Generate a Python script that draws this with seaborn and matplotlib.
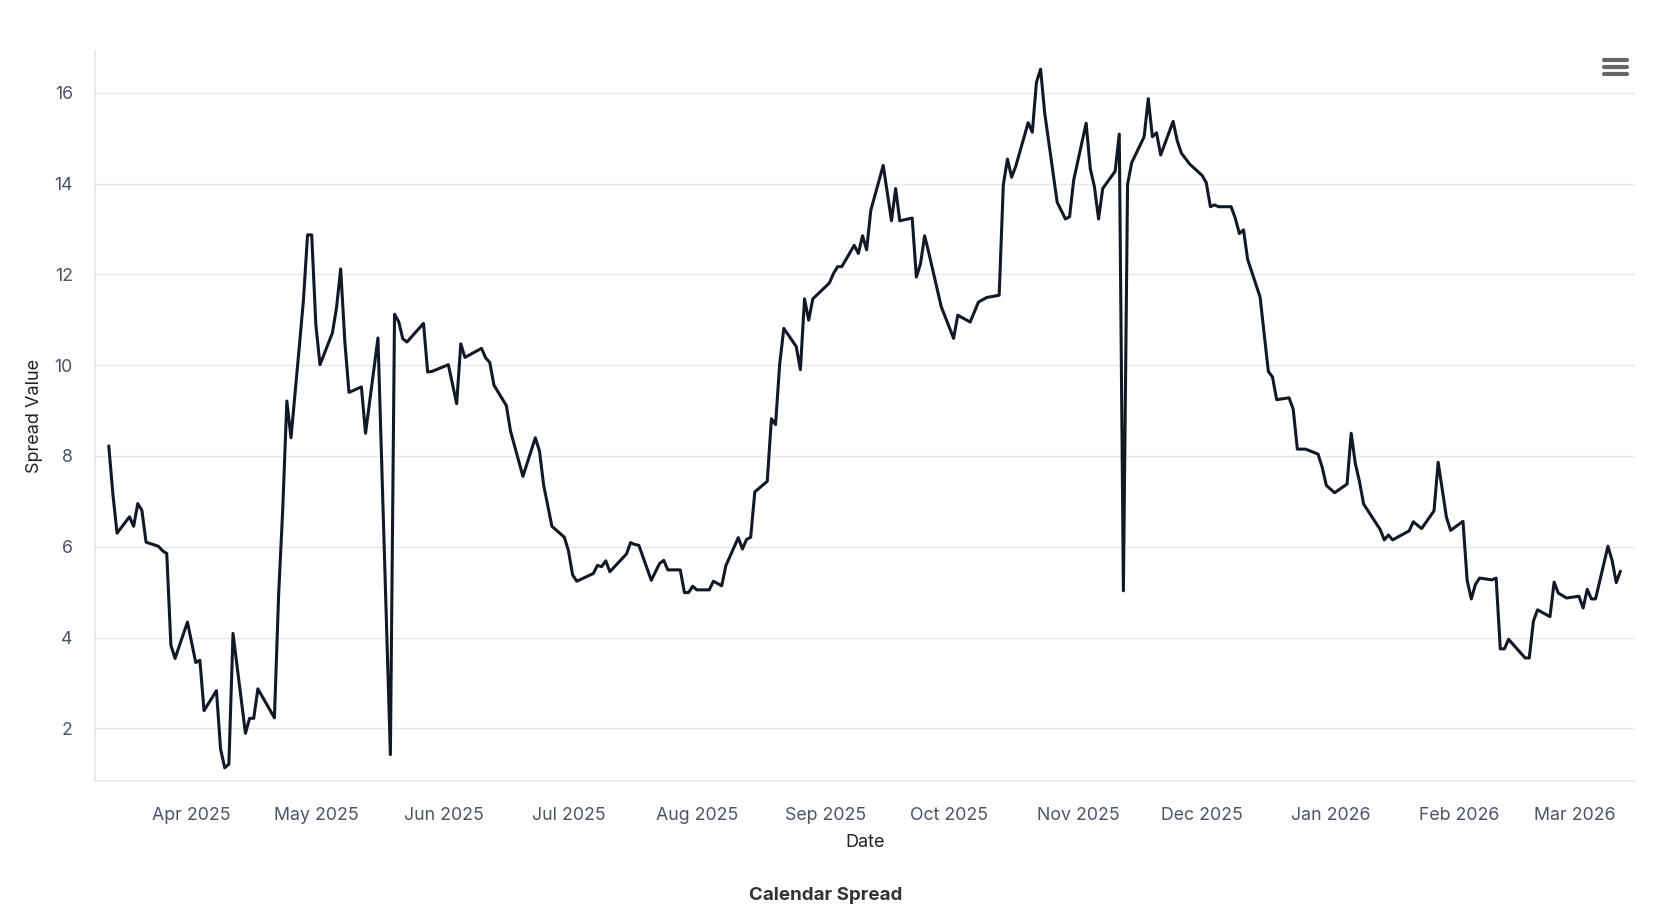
import matplotlib
matplotlib.use("Agg")
import matplotlib.pyplot as plt
import matplotlib.dates as mdates
import pandas as pd
import seaborn as sns

# Spread values (turning points of the line)
dates = [
    "2025-03-12", "2025-03-13", "2025-03-14", "2025-03-17", "2025-03-18", "2025-03-19",
    "2025-03-20", "2025-03-21", "2025-03-24", "2025-03-25", "2025-03-26", "2025-03-27",
    "2025-03-28", "2025-03-31", "2025-04-02", "2025-04-03", "2025-04-04", "2025-04-07",
    "2025-04-08", "2025-04-09", "2025-04-10", "2025-04-11", "2025-04-14", "2025-04-15",
    "2025-04-16", "2025-04-17", "2025-04-21", "2025-04-22", "2025-04-23", "2025-04-24",
    "2025-04-25", "2025-04-27", "2025-04-28", "2025-04-29", "2025-04-30", "2025-05-01",
    "2025-05-02", "2025-05-05", "2025-05-06", "2025-05-07", "2025-05-08", "2025-05-09",
    "2025-05-12", "2025-05-13", "2025-05-16", "2025-05-19", "2025-05-20", "2025-05-21",
    "2025-05-22", "2025-05-23", "2025-05-27", "2025-05-28", "2025-05-29", "2025-06-02",
    "2025-06-04", "2025-06-05", "2025-06-06", "2025-06-10", "2025-06-11", "2025-06-12",
    "2025-06-13", "2025-06-16", "2025-06-17", "2025-06-20", "2025-06-23", "2025-06-24",
    "2025-06-25", "2025-06-27", "2025-06-30", "2025-07-01", "2025-07-02", "2025-07-03",
    "2025-07-07", "2025-07-08", "2025-07-09", "2025-07-10", "2025-07-11", "2025-07-15",
    "2025-07-16", "2025-07-17", "2025-07-18", "2025-07-21", "2025-07-23", "2025-07-24",
    "2025-07-25", "2025-07-28", "2025-07-29", "2025-07-30", "2025-07-31", "2025-08-01",
    "2025-08-04", "2025-08-05", "2025-08-07", "2025-08-08", "2025-08-11", "2025-08-12",
    "2025-08-13", "2025-08-14", "2025-08-15", "2025-08-18", "2025-08-19", "2025-08-20",
    "2025-08-21", "2025-08-22", "2025-08-25", "2025-08-26", "2025-08-27", "2025-08-28",
    "2025-08-29", "2025-09-02", "2025-09-03", "2025-09-04", "2025-09-05", "2025-09-08",
    "2025-09-09", "2025-09-10", "2025-09-11", "2025-09-12", "2025-09-15", "2025-09-17",
    "2025-09-18", "2025-09-19", "2025-09-22", "2025-09-23", "2025-09-24", "2025-09-25",
    "2025-09-26", "2025-09-29", "2025-10-02", "2025-10-03", "2025-10-06", "2025-10-08",
    "2025-10-10", "2025-10-13", "2025-10-14", "2025-10-15", "2025-10-16", "2025-10-17",
    "2025-10-20", "2025-10-21", "2025-10-22", "2025-10-23", "2025-10-24", "2025-10-27",
    "2025-10-29", "2025-10-30", "2025-10-31", "2025-11-03", "2025-11-04", "2025-11-05",
    "2025-11-06", "2025-11-07", "2025-11-10", "2025-11-11", "2025-11-12", "2025-11-13",
    "2025-11-14", "2025-11-17", "2025-11-18", "2025-11-19", "2025-11-20", "2025-11-21",
    "2025-11-24", "2025-11-25", "2025-11-26", "2025-11-28", "2025-12-01", "2025-12-02",
    "2025-12-03", "2025-12-04", "2025-12-05", "2025-12-08", "2025-12-09", "2025-12-10",
    "2025-12-11", "2025-12-12", "2025-12-15", "2025-12-17", "2025-12-18", "2025-12-19",
    "2025-12-22", "2025-12-23", "2025-12-24", "2025-12-26", "2025-12-29", "2025-12-30",
    "2025-12-31", "2026-01-02", "2026-01-05", "2026-01-06", "2026-01-07", "2026-01-08",
    "2026-01-09", "2026-01-13", "2026-01-14", "2026-01-15", "2026-01-16", "2026-01-20",
    "2026-01-21", "2026-01-23", "2026-01-26", "2026-01-27", "2026-01-29", "2026-01-30",
    "2026-02-02", "2026-02-03", "2026-02-04", "2026-02-05", "2026-02-06", "2026-02-09",
    "2026-02-10", "2026-02-11", "2026-02-12", "2026-02-13", "2026-02-17", "2026-02-18",
    "2026-02-19", "2026-02-20", "2026-02-23", "2026-02-24", "2026-02-25", "2026-02-27",
    "2026-03-02", "2026-03-03", "2026-03-04", "2026-03-05", "2026-03-06", "2026-03-09",
    "2026-03-10", "2026-03-11", "2026-03-12",
]
spread = [
    8.22, 7.15, 6.30, 6.66, 6.45, 6.95,
    6.80, 6.10, 6.01, 5.91, 5.85, 3.83,
    3.54, 4.34, 3.45, 3.50, 2.39, 2.83,
    1.54, 1.13, 1.21, 4.09, 1.89, 2.22,
    2.22, 2.87, 2.23, 4.91, 6.82, 9.21,
    8.40, 10.40, 11.43, 12.87, 12.87, 10.89,
    10.01, 10.71, 11.27, 12.12, 10.52, 9.40,
    9.52, 8.50, 10.60, 1.42, 11.12, 10.96,
    10.58, 10.51, 10.92, 9.85, 9.86, 10.01,
    9.15, 10.47, 10.17, 10.37, 10.16, 10.06,
    9.56, 9.11, 8.55, 7.55, 8.40, 8.11,
    7.36, 6.45, 6.21, 5.91, 5.38, 5.24,
    5.41, 5.59, 5.56, 5.69, 5.45, 5.84,
    6.09, 6.05, 6.03, 5.26, 5.63, 5.70,
    5.49, 5.49, 4.99, 4.99, 5.13, 5.05,
    5.05, 5.24, 5.14, 5.58, 6.20, 5.95,
    6.16, 6.21, 7.21, 7.44, 8.82, 8.69,
    10.02, 10.81, 10.41, 9.90, 11.46, 10.99,
    11.46, 11.81, 12.02, 12.17, 12.17, 12.64,
    12.46, 12.85, 12.54, 13.41, 14.40, 13.18,
    13.89, 13.18, 13.24, 11.94, 12.23, 12.85,
    12.48, 11.29, 10.59, 11.10, 10.95, 11.39,
    11.49, 11.54, 13.97, 14.54, 14.14, 14.38,
    15.34, 15.13, 16.23, 16.52, 15.55, 13.59,
    13.22, 13.27, 14.08, 15.33, 14.33, 13.93,
    13.22, 13.89, 14.27, 15.09, 5.03, 13.98,
    14.46, 15.03, 15.87, 15.03, 15.12, 14.63,
    15.37, 14.94, 14.67, 14.43, 14.18, 14.02,
    13.49, 13.53, 13.49, 13.49, 13.24, 12.90,
    12.98, 12.33, 11.50, 9.86, 9.74, 9.24,
    9.28, 9.03, 8.15, 8.15, 8.04, 7.75,
    7.35, 7.19, 7.38, 8.50, 7.83, 7.44,
    6.94, 6.38, 6.15, 6.26, 6.15, 6.35,
    6.55, 6.40, 6.79, 7.86, 6.65, 6.36,
    6.56, 5.26, 4.85, 5.17, 5.31, 5.27,
    5.31, 3.75, 3.75, 3.96, 3.55, 3.55,
    4.36, 4.61, 4.46, 5.22, 4.98, 4.87,
    4.91, 4.65, 5.06, 4.85, 4.85, 6.01,
    5.70, 5.21, 5.46,
]
y_ticks = [2, 4, 6, 8, 10, 12, 14, 16]

df = pd.DataFrame({"Date": pd.to_datetime(dates), "Spread Value": spread})

sns.set_style("white")
plt.rcParams["font.family"] = ["Inter", "DejaVu Sans"]

fig = plt.figure(figsize=(16.72, 9.06), dpi=100)
ax = fig.add_axes([0.0568, 0.1385, 0.9212, 0.8052])

sns.lineplot(data=df, x="Date", y="Spread Value", ax=ax, color="#111827", linewidth=2.2)

ax.set_xlim(pd.Timestamp("2025-03-08 16:00"), pd.Timestamp("2026-03-15 14:00"))
ax.set_ylim(0.85, 16.92)
ax.set_yticks(y_ticks)
ax.yaxis.grid(True, color="#e5e7eb", linewidth=1)
ax.xaxis.grid(False)

ax.xaxis.set_major_locator(mdates.MonthLocator())
ax.xaxis.set_major_formatter(mdates.DateFormatter("%b %Y"))
ax.tick_params(axis="x", colors="#e5e7eb", length=9, width=1, pad=10, labelsize=12.8,
               labelcolor="#4a5568")
ax.tick_params(axis="y", length=0, pad=16, labelsize=12.8, labelcolor="#4a5568")

for side in ["top", "right"]:
    ax.spines[side].set_visible(False)
for side in ["left", "bottom"]:
    ax.spines[side].set_color("#e5e7eb")
    ax.spines[side].set_linewidth(1.2)

ax.set_xlabel("Date", fontsize=13, color="#222222", labelpad=7)
ax.set_ylabel("Spread Value", fontsize=13, color="#222222", labelpad=8)

fig.text(0.494, 0.0115, "Calendar Spread", ha="center", va="center",
         fontsize=13.5, fontweight="bold", color="#333333")

# hamburger menu icon, top right
for yy in [0.934, 0.926, 0.918]:
    fig.add_artist(plt.Line2D([0.9595, 0.9728], [yy, yy], color="#666666",
                              linewidth=3.0, solid_capstyle="round"))

fig.savefig("out.png", dpi=100)
